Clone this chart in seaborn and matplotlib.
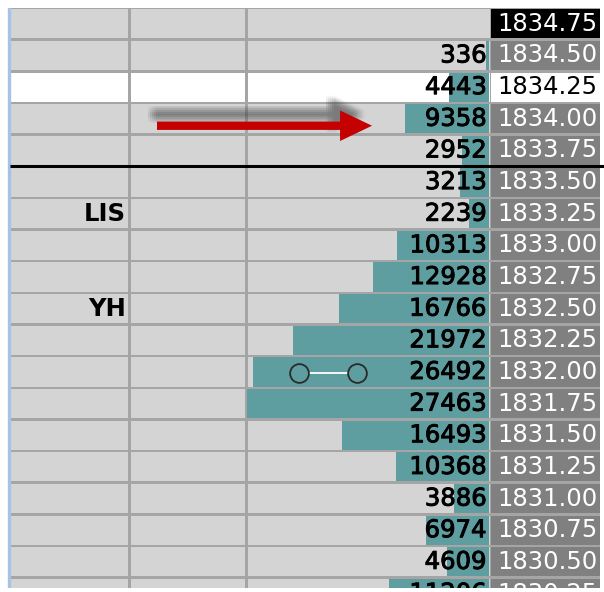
import numpy as np
import pandas as pd
import matplotlib
matplotlib.use('Agg')
import matplotlib.pyplot as plt
import matplotlib.patheffects as pe
from matplotlib.transforms import offset_copy
import seaborn as sns

# price ladder, top to bottom
prices = ['1834.75', '1834.50', '1834.25', '1834.00', '1833.75', '1833.50', '1833.25',
          '1833.00', '1832.75', '1832.50', '1832.25', '1832.00', '1831.75', '1831.50',
          '1831.25', '1831.00', '1830.75', '1830.50', '1830.25']
volumes = [np.nan, 336, 4443, 9358, 2952, 3213, 2239, 10313, 12928, 16766, 21972,
           26492, 27463, 16493, 10368, 3886, 6974, 4609, 11206]
note_prices = ['1833.25', '1832.50']
note_labels = ['LIS', 'YH']
last_price = '1834.75'
white_price = '1834.25'
split_after = '1833.75'

TEAL = '#5f9ea0'
CELL = '#d4d4d4'
GRID = '#a5a5a5'
FS = 17.5

W, H = 604, 592
TOP, BOT = 8, 588
ROW = 31.65
n_vis = (BOT - TOP) / ROW
ylim = (n_vis - 0.5, -0.5)

plt.rcParams['font.family'] = ['DejaVu Sans']
fig = plt.figure(figsize=(W / 100, H / 100), dpi=100)


def add_ax(x0, x1, z=0):
    ax = fig.add_axes([x0 / W, 1 - BOT / H, (x1 - x0) / W, (BOT - TOP) / H], zorder=z)
    ax.set_ylim(ylim)
    ax.axis('off')
    return ax


rows = np.arange(len(prices))
heavy = [pe.withStroke(linewidth=0.7, foreground='black')]

# background table: grid colour underneath, cells on top with small gaps
bg = add_ax(0, W, 0)
bg.set_xlim(0, W)
bg.axvspan(10, 600, color=GRID, lw=0)
cell_cols = ['white' if p == white_price else CELL for p in prices]
for x0, x1 in [(10.5, 128), (130.5, 245), (247.5, 490)]:
    bg.barh(rows, x1 - x0, left=x0, height=0.92, color=cell_cols, lw=0)
price_cols = ['black' if p == last_price else ('white' if p == white_price else '#808080')
              for p in prices]
bg.barh(rows, 109, left=491, height=0.92, color=price_cols, lw=0)
bg.axvline(9, color='#a6c3e6', lw=2.4)

for i, p in enumerate(prices):
    c = 'black' if p == white_price else 'white'
    bg.text(497, i, p, ha='left', va='center', color=c, fontsize=FS, clip_on=True)
for p, lab in zip(note_prices, note_labels):
    bg.text(126, prices.index(p), lab, ha='right', va='center', fontsize=FS,
            fontweight='bold', color='black')

# volume profile bars
vax = add_ax(246.5, 488.5, 1)
df = pd.DataFrame({'price': prices, 'volume': volumes}).dropna()
sns.barplot(data=df, x='volume', y='price', order=prices, orient='h', color=TEAL,
            saturation=1, width=0.92, errorbar=None, linewidth=0, ax=vax)
vax.set_xlim(27191, 0)
vax.set_ylim(ylim)
vax.axis('off')
tr = offset_copy(vax.transData, fig=fig, x=-2, y=0, units='dots')
for i, v in enumerate(volumes):
    if np.isnan(v):
        continue
    vax.text(0, i, f'{int(v)}', transform=tr, ha='right', va='center', fontsize=FS,
             color='black', clip_on=True, path_effects=heavy)

# overlay: separator, arrow, drawing tool
ov = add_ax(0, W, 2)
ov.set_xlim(0, W)
sep = prices.index(split_after) + 0.5
ov.plot([10, W], [sep, sep], color='black', lw=2.2, solid_capstyle='butt')

arrow_style = 'simple,head_length=23,head_width=22,tail_width=6'
for dx in (-4, -2, 0, 2, 4):
    for dy in (-0.12, -0.06, 0, 0.06, 0.12):
        ov.annotate('', xy=(362 + dx, 2.86 + dy), xytext=(152 + dx, 2.86 + dy),
                    arrowprops=dict(arrowstyle=arrow_style, mutation_scale=1,
                                    color='#4a4a4a', alpha=0.035, lw=0,
                                    shrinkA=0, shrinkB=0))
ov.annotate('', xy=(372, 3.22), xytext=(157, 3.22),
            arrowprops=dict(arrowstyle=arrow_style, mutation_scale=1, color='#c40000',
                            lw=0, shrinkA=0, shrinkB=0))

ov.plot([308.5, 348], [11.02, 11.02], color='white', lw=1.3)
ov.plot([299.3, 357.3], [11.02, 11.02], ls='none', marker='o', ms=13.5, mfc='none',
        mec='#2a2a2a', mew=1.3)

fig.savefig('out.png', dpi=100)
